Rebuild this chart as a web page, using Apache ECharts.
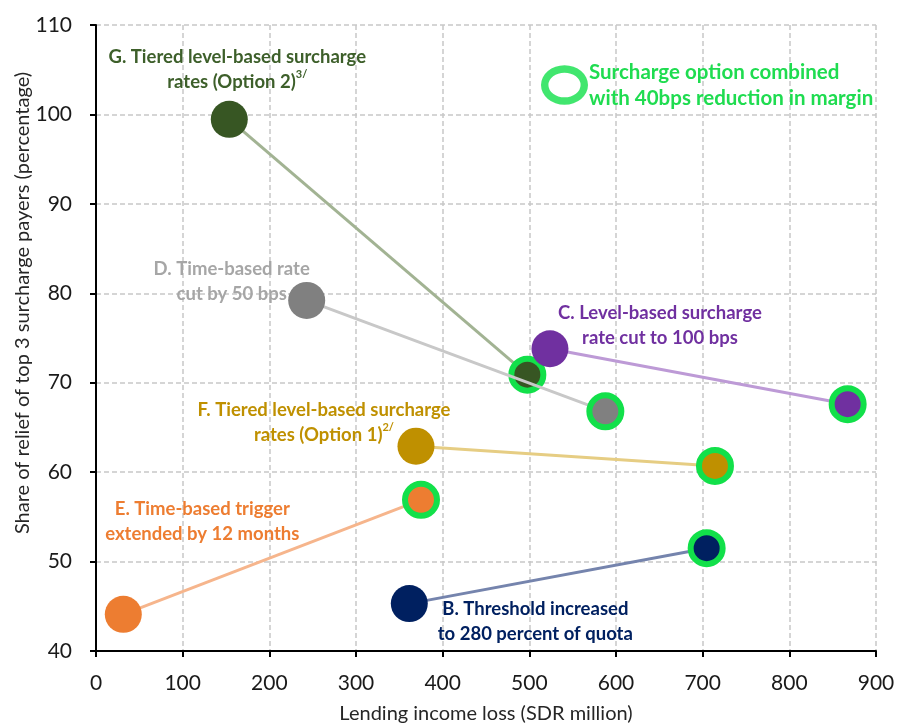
<!DOCTYPE html>
<html>
<head>
<meta charset="utf-8">
<script src="https://cdn.jsdelivr.net/npm/echarts@6/dist/echarts.min.js"></script>
<style>html,body{margin:0;padding:0;background:#fff}#c{width:898px;height:723px}</style>
</head>
<body>
<div id="c"></div>
<script>
// ---- data ----
const optionIds = ['G', 'D', 'C', 'F', 'E', 'B'];
const labelLine1 = ['G. Tiered level-based surcharge', 'D. Time-based rate', 'C. Level-based surcharge', 'F. Tiered level-based surcharge', 'E. Time-based trigger', 'B. Threshold increased'];
const labelLine2 = ['rates (Option 2)', 'cut by 50 bps', 'rate cut to 100 bps', 'rates (Option 1)', 'extended by 12 months', 'to 280 percent of quota'];
const labelSup = ['3/', '', '', '2/', '', ''];
const baseLoss = [153.8, 243.1, 523.8, 369.2, 31.5, 361.5];
const baseRelief = [99.45, 79.2, 73.8, 62.9, 44.1, 45.3];
const marginLoss = [497.7, 587.7, 867.3, 714.2, 375.0, 704.6];
const marginRelief = [70.9, 66.8, 67.6, 60.7, 56.9, 51.5];
const legendText = 'Surcharge option combined\nwith 40bps reduction in margin';
const xTitle = 'Lending income loss (SDR million)';
const yTitle = 'Share of relief of top 3 surcharge payers (percentage)';
const xTicks = {min: 0, max: 900, interval: 100};
const yTicks = {min: 40, max: 110, interval: 10};

// ---- styles ----
const fillColors = ['#375623', '#808080', '#7030a0', '#bf9000', '#ed7d31', '#002060'];
const lineColors = ['#a2b393', '#c8c8c8', '#bd9ad6', '#e6cd83', '#f6b58c', '#7584ad'];
const textColors = ['#3d5f2a', '#a6a6a6', '#7030a0', '#bf9000', '#ed7d31', '#002060'];
const labelOffsets = [[8, -50], [-75, -19], [110, -23], [-92, -24], [79, -93], [126, 18]];
const ringColor = '#12e04a';
const fontFam = 'Lato, "Open Sans", sans-serif';

const series = optionIds.map((id, i) => {
  const sup = labelSup[i];
  return {
    name: id,
    type: 'line',
    symbol: 'circle',
    showAllSymbol: true,
    animation: false,
    silent: true,
    z: 2 + i,
    lineStyle: {color: lineColors[i], width: 3},
    emphasis: {disabled: true},
    data: [
      {
        value: [baseLoss[i], baseRelief[i]],
        symbolSize: 37,
        itemStyle: {color: fillColors[i], borderWidth: 0},
        label: {
          show: true,
          position: 'inside',
          offset: labelOffsets[i],
          align: 'center',
          verticalAlign: 'middle',
          formatter: '{a|' + labelLine1[i] + '}\n{a|' + labelLine2[i] + '}' + (sup ? '{s|' + sup + '}' : ''),
          rich: {
            a: {fontFamily: fontFam, fontWeight: 'bold', fontSize: 18.5, color: textColors[i], lineHeight: 25},
            s: {fontFamily: fontFam, fontWeight: 'bold', fontSize: 11, color: textColors[i], lineHeight: 25, verticalAlign: 'top', padding: [0, 0, 9, 0]}
          }
        }
      },
      {
        value: [marginLoss[i], marginRelief[i]],
        symbolSize: 32,
        itemStyle: {color: fillColors[i], borderColor: ringColor, borderWidth: 6}
      }
    ]
  };
});

series.push({
  name: legendText,
  type: 'scatter',
  data: [],
  itemStyle: {color: ringColor}
});

const chart = echarts.init(document.getElementById('c'), null, {renderer: 'canvas'});
chart.setOption({
  animation: false,
  backgroundColor: '#ffffff',
  grid: {left: 96, right: 22, top: 25, bottom: 72, containLabel: false, outerBoundsMode: 'none'},
  legend: {
    data: [{
      name: legendText,
      icon: 'path://M0,16 A19,16 0 1,1 38,16 A19,16 0 1,1 0,16 Z M6,16 A13,10 0 1,0 32,16 A13,10 0 1,0 6,16 Z',
      itemStyle: {color: ringColor, borderWidth: 0}
    }],
    left: 541, top: 59,
    padding: 0,
    itemWidth: 47, itemHeight: 40,
    selectedMode: false,
    textStyle: {fontFamily: fontFam, fontWeight: 'bold', fontSize: 20.5, color: '#1fdc50', lineHeight: 26, padding: [0, 0, 0, -4]}
  },
  graphic: [{
    type: 'text',
    x: 23, y: 303,
    rotation: Math.PI / 2,
    silent: true,
    style: {text: yTitle, fontFamily: fontFam, fontSize: 20, fill: '#262626', align: 'center', verticalAlign: 'middle'}
  }],
  xAxis: {
    type: 'value',
    min: xTicks.min, max: xTicks.max, interval: xTicks.interval,
    name: xTitle,
    nameLocation: 'middle',
    nameGap: 53,
    nameTextStyle: {fontFamily: fontFam, fontSize: 20, color: '#262626'},
    axisLine: {show: true, lineStyle: {color: '#000', width: 2}},
    axisTick: {show: true, length: 6, lineStyle: {color: '#000', width: 2}},
    axisLabel: {fontFamily: fontFam, fontSize: 21, color: '#1a1a1a', margin: 22},
    splitLine: {show: true, lineStyle: {color: '#c8c8c8', width: 1.5, type: [5, 3]}}
  },
  yAxis: {
    type: 'value',
    min: yTicks.min, max: yTicks.max, interval: yTicks.interval,
    axisLine: {show: true, lineStyle: {color: '#000', width: 2}},
    axisTick: {show: true, length: 6, lineStyle: {color: '#000', width: 2}},
    axisLabel: {fontFamily: fontFam, fontSize: 21, color: '#1a1a1a', margin: 24},
    splitLine: {show: true, lineStyle: {color: '#c8c8c8', width: 1.5, type: [5, 3]}}
  },
  series: series
});
</script>
</body>
</html>
